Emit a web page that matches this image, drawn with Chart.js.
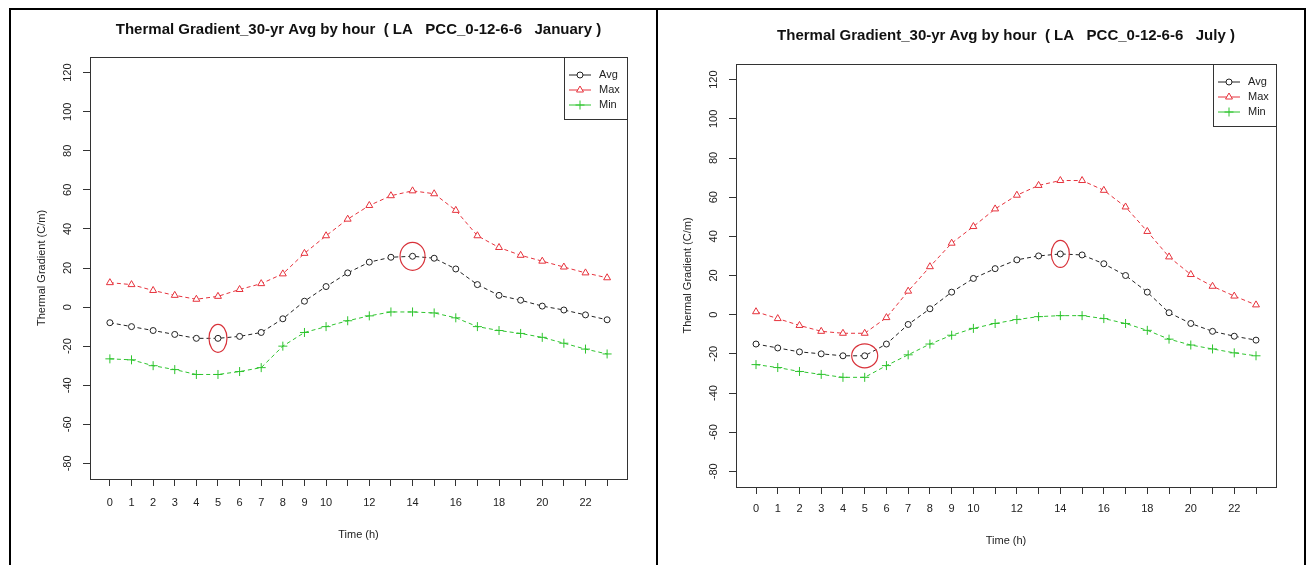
<!DOCTYPE html>
<html><head><meta charset="utf-8">
<script src="https://cdn.jsdelivr.net/npm/chart.js@4.4.1/dist/chart.umd.min.js"></script>
<style>
html,body{margin:0;padding:0;background:#fff;}
body{width:1306px;height:565px;position:relative;overflow:hidden;}
.panel{position:absolute;top:10px;width:645px;height:555px;}
.rule{position:absolute;background:#000;}
</style></head><body>
<div class="rule" style="left:9px;top:8px;width:1297px;height:2px"></div>
<div class="rule" style="left:9px;top:8px;width:2px;height:557px"></div>
<div class="rule" style="left:656px;top:8px;width:2px;height:557px"></div>
<div class="rule" style="left:1304px;top:8px;width:2px;height:557px"></div>
<div class="panel" style="left:11px"><canvas id="c1" width="645" height="555"></canvas></div>
<div class="panel" style="left:659px"><canvas id="c2" width="645" height="555"></canvas></div>
<script>
// ---- data ----
const hours = [0,1,2,3,4,5,6,7,8,9,10,11,12,13,14,15,16,17,18,19,20,21,22,23];
const xTickLabels = ['0','1','2','3','4','5','6','7','8','9','10','','12','','14','','16','','18','','20','','22',''];
const yTickValues = [-80,-60,-40,-20,0,20,40,60,80,100,120];
const seriesNames = ['Avg','Max','Min'];

const janTitle = 'Thermal Gradient_30-yr Avg by hour  ( LA   PCC_0-12-6-6   January )';
const janAvg = [-8,-10,-12,-14,-16,-16,-15,-13,-6,3,10.5,17.5,23,25.5,26,25,19.5,11.5,6,3.5,0.5,-1.5,-4,-6.5];
const janMax = [12.5,11.5,8.5,6,4,5.5,9,12,17,27.5,36.5,45,52,57,59.5,58,49.5,36.5,30.5,26.5,23.5,20.5,17.5,15];
const janMin = [-26.5,-27,-30,-32,-34.5,-34.5,-33,-31,-20,-13,-10,-7,-4.5,-2.5,-2.5,-3,-5.5,-10,-12,-13.5,-15.5,-18.5,-21.5,-24];
const janMarkedHours = [5,14];

const julTitle = 'Thermal Gradient_30-yr Avg by hour  ( LA   PCC_0-12-6-6   July )';
const julAvg = [-15,-17,-19,-20,-21,-21,-15,-5,3,11.5,18.5,23.5,28,30,31,30.5,26,20,11.5,1,-4.5,-8.5,-11,-13];
const julMax = [1.5,-2,-5.5,-8.5,-9.5,-9.5,-1.5,12,24.5,36.5,45,54,61,66,68.5,68.5,63.5,55,42.5,29.5,20.5,14.5,9.5,5];
const julMin = [-25.5,-27,-29,-30.5,-32,-32,-26,-20.5,-15,-10.5,-7,-4.5,-2.5,-1,-0.5,-0.5,-2,-4.5,-8,-12.5,-15.5,-17.5,-19.5,-21];
const julMarkedHours = [5,14];

const FONT = '"Liberation Sans", Arial, sans-serif';

const decor = {
  id: 'decor',
  afterDraw(chart, args, o) {
    const {ctx, chartArea: a, scales: {x, y}} = chart;
    ctx.save();
    // box
    ctx.strokeStyle = '#333'; ctx.lineWidth = 1; ctx.setLineDash([]);
    ctx.strokeRect(Math.round(a.left) + 0.5, Math.round(a.top) + 0.5, Math.round(a.right - a.left), Math.round(a.bottom - a.top));
    // title
    ctx.fillStyle = '#111'; ctx.textAlign = 'center'; ctx.textBaseline = 'middle';
    ctx.font = 'bold 15px ' + FONT;
    ctx.fillText(o.title, (a.left + a.right) / 2, o.titleY);
    // rotated y tick labels
    ctx.font = '11px ' + FONT; ctx.fillStyle = '#222';
    y.ticks.forEach(t => {
      const py = y.getPixelForValue(t.value);
      ctx.save(); ctx.translate(a.left - 22, py); ctx.rotate(-Math.PI / 2);
      ctx.fillText(String(t.value), 0, 0); ctx.restore();
    });
    // legend
    const lw = 63, lh = 62, lx = a.right - lw, ly = a.top;
    ctx.strokeStyle = '#333'; ctx.lineWidth = 1;
    ctx.strokeRect(Math.round(lx) + 0.5, Math.round(ly) + 0.5, lw, lh);
    ctx.textAlign = 'left'; ctx.font = '11px ' + FONT;
    chart.data.datasets.forEach((ds, i) => {
      const ey = ly + 18 + i * 15;
      ctx.strokeStyle = ds.borderColor; ctx.lineWidth = 1;
      ctx.beginPath(); ctx.moveTo(lx + 5, ey); ctx.lineTo(lx + 27, ey); ctx.stroke();
      ctx.fillStyle = '#fff';
      Chart.helpers.drawPoint(ctx, {pointStyle: ds.pointStyle, radius: ds.pointRadius, rotation: 0, borderWidth: 1}, lx + 16, ey);
      ctx.fillStyle = '#222';
      ctx.fillText(ds.label, lx + 35, ey);
    });
    // red ellipses round the extreme avg points
    ctx.strokeStyle = '#d8323a'; ctx.lineWidth = 1.2;
    o.marks.forEach(m => {
      const idx = hours.indexOf(m.hour);
      const px = x.getPixelForValue(m.hour), py = y.getPixelForValue(chart.data.datasets[0].data[idx].y);
      ctx.beginPath(); ctx.ellipse(px, py, m.rx, m.ry, 0, 0, Math.PI * 2); ctx.stroke();
    });
    ctx.restore();
  }
};

function makePanel(id, title, avg, max, min, marks, g) {
  const pts = arr => hours.map((h, i) => ({x: h, y: arr[i]}));
  const common = {borderWidth: 1, borderDash: [4, 3], pointBorderWidth: 1, pointBackgroundColor: '#fff', fill: false, tension: 0};
  const colors = ['#222222', '#e6323c', '#2ec42e'];
  const styles = ['circle', 'triangle', 'cross'];
  const radii = [3, 4, 4.5];
  const vals = [avg, max, min];
  new Chart(document.getElementById(id), {
    type: 'line',
    data: {
      datasets: seriesNames.map((n, i) => Object.assign({}, common, {
        label: n, data: pts(vals[i]), borderColor: colors[i], pointBorderColor: colors[i],
        pointStyle: styles[i], pointRadius: radii[i]
      }))
    },
    options: {
      responsive: false, animation: false, events: [],
      layout: {padding: {left: 0, top: g.top, right: 645 - g.right, bottom: 0}},
      plugins: {
        legend: {display: false}, tooltip: {enabled: false}, title: {display: false},
        decor: {title: title, titleY: g.titleY, marks: marks}
      },
      scales: {
        x: {
          type: 'linear', min: -0.92, max: 23.92,
          afterBuildTicks: s => { s.ticks = hours.map(v => ({value: v})); },
          afterFit: s => { s.height = 555 - g.bottom; },
          grid: {drawOnChartArea: false, drawTicks: true, tickLength: 7, color: '#333'},
          border: {display: true, color: '#333'},
          ticks: {autoSkip: false, maxRotation: 0, padding: g.xPad, color: '#222', font: {family: FONT, size: 11},
                  callback: (v, i) => xTickLabels[i]},
          title: {display: true, text: 'Time (h)', color: '#222', font: {family: FONT, size: 11}, padding: {top: 0, bottom: g.xTitlePad}}
        },
        y: {
          type: 'linear', min: -88, max: 128,
          afterBuildTicks: s => { s.ticks = yTickValues.map(v => ({value: v})); },
          afterFit: s => { s.width = g.left; },
          grid: {drawOnChartArea: false, drawTicks: true, tickLength: 7, color: '#333'},
          border: {display: true, color: '#333'},
          ticks: {display: false},
          title: {display: true, text: 'Thermal Gradient (C/m)', color: '#222', font: {family: FONT, size: 11}, padding: {top: g.yTitlePad, bottom: 0}}
        }
      }
    },
    plugins: [decor]
  });
}

makePanel('c1', janTitle, janAvg, janMax, janMin,
  [{hour: janMarkedHours[0], rx: 9, ry: 14}, {hour: janMarkedHours[1], rx: 12.5, ry: 14}],
  {left: 79, right: 616, top: 47, bottom: 469, titleY: 20, xPad: 10, xTitlePad: 23, yTitlePad: 24});
makePanel('c2', julTitle, julAvg, julMax, julMin,
  [{hour: julMarkedHours[0], rx: 13, ry: 12}, {hour: julMarkedHours[1], rx: 9, ry: 13.5}],
  {left: 77, right: 617, top: 54, bottom: 477, titleY: 26, xPad: 8.5, xTitlePad: 17, yTitlePad: 22});
</script>
</body></html>
